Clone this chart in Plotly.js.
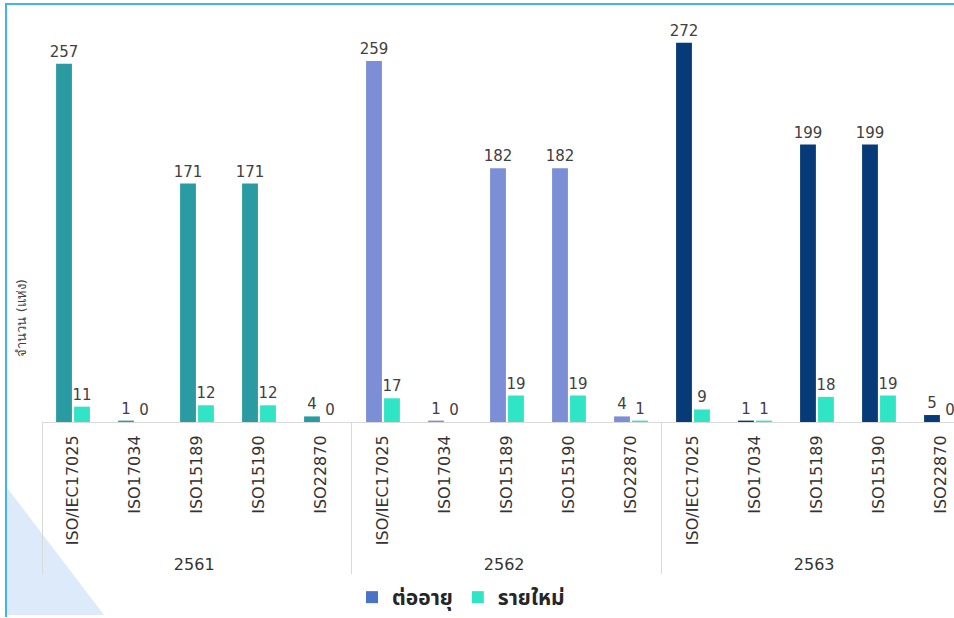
<!DOCTYPE html>
<html>
<head>
<meta charset="utf-8">
<script src="https://cdn.plot.ly/plotly-3.0.1.min.js"></script>
<style>
  html, body { margin: 0; padding: 0; background: #ffffff; }
  #chart { width: 954px; height: 618px; }
</style>
</head>
<body>
<div id="chart"></div>
<script>
// ---- data ----
const years = ['2561', '2562', '2563'];
const categories = ['ISO/IEC17025', 'ISO17034', 'ISO15189', 'ISO15190', 'ISO22870'];
const renew2561 = [257, 1, 171, 171, 4];
const renew2562 = [259, 1, 182, 182, 4];
const renew2563 = [272, 1, 199, 199, 5];
const new2561 = [11, 0, 12, 12, 0];
const new2562 = [17, 0, 19, 19, 1];
const new2563 = [9, 1, 18, 19, 0];
const seriesNames = ['ต่ออายุ', 'รายใหม่'];
const yAxisTitle = 'จำนวน (แห่ง)';

// ---- styles ----
const yearRenewColors = ['#2A9AA3', '#7B8ED6', '#073B78'];
const newColor = '#2FE5C6';
const legendRenewColor = '#4A72C6';

const xYear = [], xCat = [], yRenew = [], yNew = [], renewColors = [];
const renewByYear = [renew2561, renew2562, renew2563];
const newByYear = [new2561, new2562, new2563];
years.forEach((yr, yi) => {
  categories.forEach((c, ci) => {
    xYear.push(yr);
    xCat.push(c);
    yRenew.push(renewByYear[yi][ci]);
    yNew.push(newByYear[yi][ci]);
    renewColors.push(yearRenewColors[yi]);
  });
});

const labelFont = { family: 'Tahoma, "DejaVu Sans", sans-serif', size: 15, color: '#404040' };

const traces = [
  {
    type: 'bar', name: seriesNames[0], x: [xYear, xCat], y: yRenew,
    offsetgroup: 'a', showlegend: false,
    marker: { color: renewColors },
    text: yRenew.map(String), textposition: 'outside', textfont: labelFont,
    constraintext: 'none', cliponaxis: false, hoverinfo: 'none'
  },
  {
    type: 'bar', name: seriesNames[1], x: [xYear, xCat], y: yNew,
    offsetgroup: 'b', showlegend: false,
    marker: { color: newColor },
    text: yNew.map(String), textposition: 'outside', textfont: labelFont,
    constraintext: 'none', cliponaxis: false, hoverinfo: 'none'
  },
  {
    type: 'bar', name: seriesNames[0], x: [xYear, xCat], y: yRenew.map(() => null),
    offsetgroup: 'a', showlegend: true, marker: { color: legendRenewColor }, hoverinfo: 'none'
  },
  {
    type: 'bar', name: seriesNames[1], x: [xYear, xCat], y: yNew.map(() => null),
    offsetgroup: 'b', showlegend: true, marker: { color: newColor }, hoverinfo: 'none'
  }
];

// pixel helpers for paper coords
const L = 42, T = 10, W = 954, H = 618, B = 194;
const pw = W - L, ph = H - T - B;
const px = v => (v - L) / pw;
const py = v => (H - B - v) / ph;

const layout = {
  width: W, height: H,
  margin: { l: L, r: 0, t: T, b: B, pad: 0 },
  paper_bgcolor: '#ffffff', plot_bgcolor: '#ffffff',
  barmode: 'group', bargap: 0.42, bargroupgap: 0.12,
  font: { family: 'Tahoma, "DejaVu Sans", sans-serif', color: '#404040' },
  xaxis: {
    type: 'multicategory',
    range: [-0.5, 14.21],
    tickangle: -90,
    ticklabelstandoff: 6,
    tickfont: { family: 'Tahoma, "DejaVu Sans", sans-serif', size: 16, color: '#333333' },
    showline: true, linecolor: '#d9d9d9', linewidth: 1,
    showgrid: false, ticks: '',
    showdividers: true, dividercolor: '#d9d9d9', dividerwidth: 1
  },
  yaxis: {
    range: [0, 295.5],
    showticklabels: false, showgrid: false, zeroline: false, showline: false, ticks: ''
  },
  showlegend: true,
  legend: {
    orientation: 'h', x: px(352), xanchor: 'left', y: py(601), yanchor: 'middle',
    font: { family: 'Tahoma, "Noto Sans Thai", "DejaVu Sans", sans-serif', size: 21, color: '#262626', weight: 'bold' },
    itemwidth: 30, bgcolor: 'rgba(0,0,0,0)'
  },
  annotations: [
    {
      xref: 'paper', yref: 'paper', x: px(22), y: py(320), text: yAxisTitle,
      textangle: -90, showarrow: false, xanchor: 'center', yanchor: 'middle',
      font: { family: 'Tahoma, "DejaVu Sans", sans-serif', size: 13, color: '#404040' }
    }
  ],
  shapes: [
    {
      type: 'path', xref: 'paper', yref: 'paper', layer: 'below',
      path: `M ${px(7)},${py(490)} L ${px(104)},${py(618)} L ${px(7)},${py(618)} Z`,
      fillcolor: '#DCEAFA', line: { width: 0 }
    },
    {
      type: 'path', xref: 'paper', yref: 'paper', layer: 'above',
      path: `M ${px(6)},${py(620)} L ${px(6)},${py(4)} L ${px(960)},${py(4)}`,
      line: { color: '#3FB4F0', width: 2 }
    }
  ]
};

Plotly.newPlot('chart', traces, layout, { displayModeBar: false, staticPlot: true });
</script>
</body>
</html>
